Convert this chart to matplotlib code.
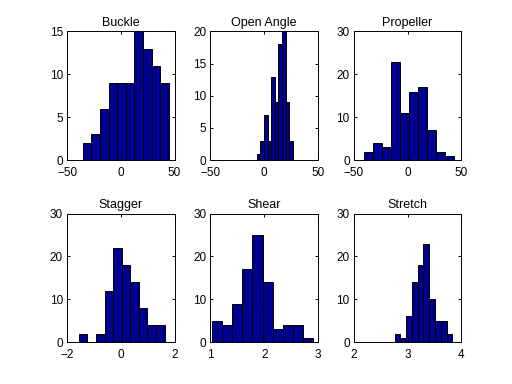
import numpy as np
import matplotlib
matplotlib.use('Agg')
import matplotlib.pyplot as plt

plt.rcParams['font.family'] = ['Liberation Sans', 'DejaVu Sans']

# histogram counts (10 bins each, MATLAB hist style)
titles = ['Buckle', 'Open Angle', 'Propeller', 'Stagger', 'Shear', 'Stretch']
buckle = [2, 3, 6, 9, 9, 9, 15, 13, 11, 9]
open_angle = [1, 3, 7, 3, 13, 9, 18, 20, 9, 3]
propeller = [2, 4, 3, 23, 11, 16, 17, 7, 2, 1]
stagger = [2, 0, 2, 12, 22, 18, 14, 8, 4, 4]
shear = [5, 4, 9, 17, 25, 14, 3, 4, 4, 1]
stretch = [2, 1, 6, 14, 18, 23, 10, 5, 5, 2]
counts = [buckle, open_angle, propeller, stagger, shear, stretch]

# data range (min, max) of each parameter
data_min = [-35.3, -7.0, -40.8, -1.56, 1.025, 2.758]
data_max = [44.7, 26.6, 43.6, 1.625, 2.913, 3.832]

xlims = [(-50, 50), (-50, 50), (-50, 50), (-2, 2), (1, 3), (2, 4)]
xticks = [[-50, 0, 50], [-50, 0, 50], [-50, 0, 50], [-2, 0, 2], [1, 2, 3], [2, 3, 4]]
ylims = [15, 20, 30, 30, 30, 30]
yticks = [[0, 5, 10, 15], [0, 5, 10, 15, 20], [0, 10, 20, 30],
          [0, 10, 20, 30], [0, 10, 20, 30], [0, 10, 20, 30]]

fig = plt.figure(figsize=(5.12, 3.84), dpi=100)

lefts = [0.131, 0.411, 0.691]
bottoms = [0.583, 0.109]
w, h = 0.210, 0.335

for i in range(6):
    ax = fig.add_axes([lefts[i % 3], bottoms[i // 3], w, h])
    edges = np.linspace(data_min[i], data_max[i], 11)
    centers = (edges[:-1] + edges[1:]) / 2
    ax.bar(centers, counts[i], width=edges[1] - edges[0], color='#00008f',
           edgecolor='black', linewidth=0.7)
    ax.set_xlim(*xlims[i])
    ax.set_ylim(0, ylims[i])
    ax.set_xticks(xticks[i])
    ax.set_yticks(yticks[i])
    ax.set_title(titles[i], fontsize=9, pad=4)
    ax.tick_params(direction='in', length=2, width=0.7, labelsize=8.5,
                   top=True, right=True)
    ax.tick_params(axis='x', pad=5)
    ax.tick_params(axis='y', pad=3)
    for s in ax.spines.values():
        s.set_linewidth(0.7)

fig.savefig('out.png', dpi=100)
